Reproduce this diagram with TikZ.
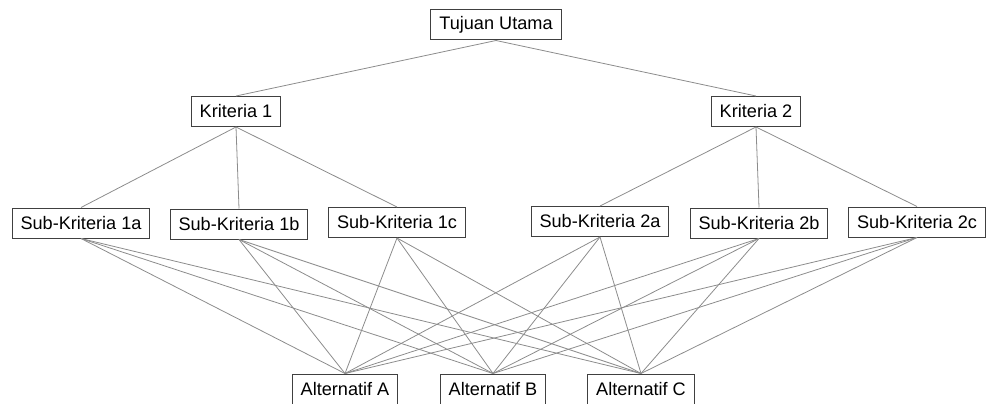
\documentclass[tikz,border=0pt]{standalone}
\usepackage{fontspec}
\setmainfont{Liberation Sans}

\begin{document}
\begin{tikzpicture}[
    x=0.75pt, y=-0.75pt,
    box/.style={rectangle, draw=black!75, line width=0.75pt, fill=white,
        minimum height=22.5pt, inner xsep=6.3pt, inner ysep=0pt,
        font=\fontsize{13.6pt}{16pt}\selectfont},
    edge/.style={draw=black!45, line width=0.6pt, -}
]
    \useasboundingbox (0,0) rectangle (987,403);
    \node[box] (goal) at (496,25) {Tujuan Utama};
    \node[box] (k1) at (236,111.5) {Kriteria 1};
    \node[box] (k2) at (756,111.5) {Kriteria 2};
    \node[box] (s1a) at (81,223) {Sub-Kriteria 1a};
    \node[box] (s1b) at (239,224) {Sub-Kriteria 1b};
    \node[box] (s1c) at (397,222.5) {Sub-Kriteria 1c};
    \node[box] (s2a) at (600,221.5) {Sub-Kriteria 2a};
    \node[box] (s2b) at (759,223) {Sub-Kriteria 2b};
    \node[box] (s2c) at (917,222) {Sub-Kriteria 2c};
    \node[box] (altA) at (345,389) {Alternatif A};
    \node[box] (altB) at (493,389) {Alternatif B};
    \node[box] (altC) at (641,389) {Alternatif C};
    \draw[edge] (goal.south) -- (k1.north);
    \draw[edge] (goal.south) -- (k2.north);
    \foreach \s in {s1a,s1b,s1c}
        \draw[edge] (k1.south) -- (\s.north);
    \foreach \s in {s2a,s2b,s2c}
        \draw[edge] (k2.south) -- (\s.north);
    \foreach \s in {s1a,s1b,s1c,s2a,s2b,s2c}
        \foreach \a in {altA,altB,altC}
            \draw[edge] (\s.south) -- (\a.north);
\end{tikzpicture}
\end{document}
